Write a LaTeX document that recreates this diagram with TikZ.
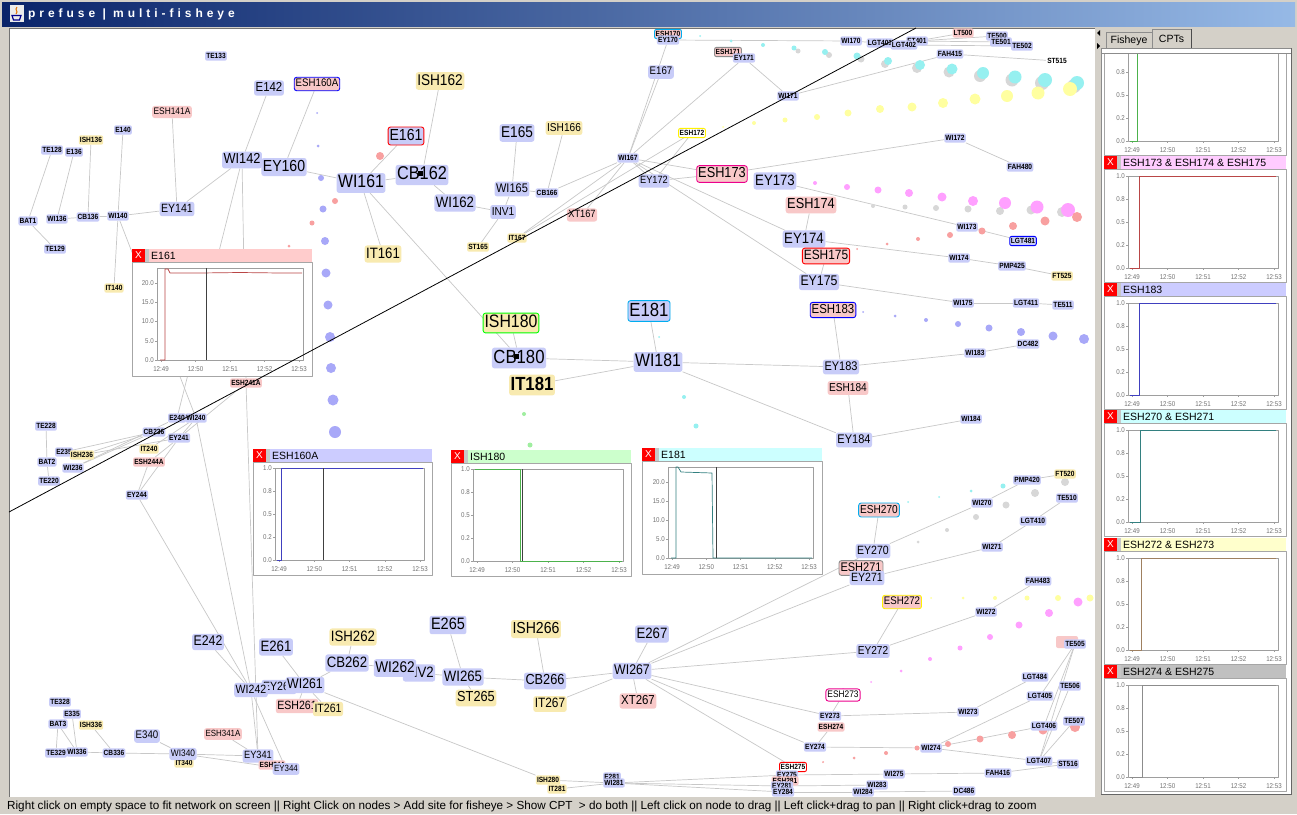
\documentclass[tikz,border=0pt]{standalone}
\usepackage{fontspec}
\setmainfont{Liberation Sans}
\newfontfamily\nf[FakeStretch=0.88]{Liberation Sans}
\newfontfamily\titlefont[LetterSpace=33]{Liberation Sans}
\pgfdeclarelayer{back}
\pgfdeclarelayer{links}
\pgfsetlayers{back,links,main}

\definecolor{nodeblue}{RGB}{200,204,248}
\definecolor{nodeyellow}{RGB}{248,234,176}
\definecolor{nodepink}{RGB}{248,200,200}
\definecolor{edgegray}{RGB}{200,200,200}
\definecolor{winframe}{RGB}{212,208,200}
\definecolor{titleL}{RGB}{10,36,106}
\definecolor{titleR}{RGB}{150,185,230}
\definecolor{xred}{RGB}{255,0,0}
\definecolor{dcyan}{RGB}{150,240,240}
\definecolor{dyellow}{RGB}{255,255,160}
\definecolor{dmag}{RGB}{255,160,255}
\definecolor{dred}{RGB}{248,160,160}
\definecolor{dblue}{RGB}{168,168,248}
\definecolor{dgray}{RGB}{215,215,215}
\definecolor{dgreen}{RGB}{160,238,160}
\definecolor{hpink}{RGB}{255,204,204}
\definecolor{hlav}{RGB}{204,204,255}
\definecolor{hgreen}{RGB}{204,255,204}
\definecolor{hcyan}{RGB}{204,255,255}
\definecolor{hmag}{RGB}{255,204,255}
\definecolor{hyel}{RGB}{255,255,204}
\definecolor{hgray}{RGB}{192,192,192}

\tikzset{
  base/.style={rounded corners=2.5pt, inner xsep=1.5pt, inner ysep=1.8pt, text=black},
  nb/.style={base, fill=nodeblue},
  ny/.style={base, fill=nodeyellow},
  np/.style={base, fill=nodepink},
  nw/.style={base, fill=white},
  sz/.style={font=\nf\fontsize{#1}{#1}\selectfont, text height={0.72*#1pt}, text depth={0.18*#1pt}},
  xs/.style={font=\nf\bfseries\fontsize{7.5}{7.5}\selectfont, text height=5.4pt, text depth=1.3pt,
             inner xsep=1.2pt, inner ysep=1.3pt, rounded corners=2pt},
  ring/.style={draw=#1, line width=0.9pt},
  edge/.style={draw=edgegray, line width=0.7pt},
  chartedge/.style={draw=black!35, line width=0.6pt},
  plotedge/.style={draw=black!38, line width=0.5pt},
  ticklab/.style={font=\nf\fontsize{7}{7}\selectfont, text=black!55, inner sep=0pt},
  closex/.style={font=\fontsize{10}{10}\selectfont, text=white, inner sep=0pt},
  cpttitle/.style={font=\fontsize{10.5}{10.5}\selectfont, anchor=west, inner sep=0pt, text=black},
  tabtext/.style={font=\fontsize{10.5}{10.5}\selectfont, inner sep=0pt},
}

% header band of a chart: name, left, right, top, colour, title
\newcommand{\cpthead}[6]{%
  \fill[#5] (#2,#4) rectangle (#3,{(#4)+13});
  \fill[xred] (#2,#4) rectangle ({(#2)+13},{(#4)+13});
  \fill[black!22] ({(#2)+13},#4) rectangle ({(#2)+17},{(#4)+13});
  \node[closex] (#1-close) at ({(#2)+6.5},{(#4)+6.5}) {X};
  \node[cpttitle] (#1-title) at ({(#2)+19},{(#4)+6.7}) {#6};
}
% time axis: name, left, right, bottom
\newcommand{\timeaxis}[4]{%
  \foreach \lab [count=\k from 0] in {12:49,12:50,12:51,12:52,12:53}{
    \draw[plotedge] ({(#2)+4+\k*((#3)-(#2)-8)/4},#4) -- ++(0,2);
    \node[ticklab] (#1-t\k) at ({(#2)+4+\k*((#3)-(#2)-8)/4},{(#4)+9}) {\lab};
  }%
}
% plot area for a 0..1 series: name, left, top, right, bottom
\newcommand{\unitaxes}[5]{%
  \draw[plotedge, fill=white] (#2,#3) rectangle (#4,#5);
  \foreach \lab [count=\k from 0] in {0.0,0.2,0.5,0.8,1.0}{
    \draw[plotedge] ({(#2)-2},{(#5)-\k*((#5)-(#3))/4}) -- (#2,{(#5)-\k*((#5)-(#3))/4});
    \node[ticklab, anchor=east] (#1-v\k) at ({(#2)-3},{(#5)-\k*((#5)-(#3))/4}) {\lab};
  }%
  \timeaxis{#1}{#2}{#4}{#5}%
}
% plot area for a temperature series: name, left, top, right, bottom
\newcommand{\tempaxes}[5]{%
  \draw[plotedge, fill=white] (#2,#3) rectangle (#4,#5);
  \foreach \lab [count=\k from 0] in {0.0,5.0,10.0,15.0,20.0}{
    \draw[plotedge] ({(#2)-2},{(#5)-5*\k*((#5)-(#3))/23.9}) -- (#2,{(#5)-5*\k*((#5)-(#3))/23.9});
    \node[ticklab, anchor=east] (#1-v\k) at ({(#2)-3},{(#5)-5*\k*((#5)-(#3))/23.9}) {\lab};
  }%
  \timeaxis{#1}{#2}{#4}{#5}%
}
% body of a chart in the side panel: name, header top, series colour, step x
\newcommand{\sidebody}[4]{%
  \draw[chartedge, fill=white] (1104,{#2+13}) rectangle (1286,{#2+126});
  \unitaxes{#1}{1128}{#2+20}{1278}{#2+112}
  \draw[#3, line width=0.7pt] (1130,{#2+112}) -- (#4,{#2+112}) -- (#4,{#2+20}) -- (1276,{#2+20});
}
% full chart of the side panel: name, header top, band colour, title, series colour, step x
\newcommand{\sidecpt}[6]{%
  \cpthead{#1}{1104}{1286}{#2}{#3}{#4}
  \sidebody{#1}{#2}{#5}{#6}
}

\begin{document}
\begin{tikzpicture}[x=1pt, y=-1pt, line join=round]
\useasboundingbox (0,0) rectangle (1297,814);

\begin{pgfonlayer}{back}
  % window frame, title bar and drawing canvas
  \fill[winframe] (0,0) rectangle (1297,814);
  \shade[left color=titleL, right color=titleR] (2,2) rectangle (1295,26);
  \fill[white!92!black] (10,5) rectangle (24,22);
  \draw[orange!90!black, line width=1pt] (17,7) .. controls (14,10) and (19,11) .. (16,14);
  \draw[blue!55!black, line width=1.2pt] (12,15.5) -- (21,15.5) -- (19.5,20) -- (13.5,20) -- cycle;
  \node[anchor=west, text=white, inner sep=0pt,
        font=\titlefont\bfseries\fontsize{12}{12}\selectfont] (wintitle) at (28,14) {prefuse | multi-fisheye};
  \fill[white] (9,28) rectangle (1095,797);
  \draw[black!55, line width=0.8pt] (9,797) -- (9,28) -- (1095,28);
  % splitter
  \fill[black] (1097,33) -- (1100,30) -- (1100,36) -- cycle;
  \fill[black] (1097,43) -- (1097,49) -- (1100,46) -- cycle;
  % side panel with tabs
  \draw[black!45, fill=white] (1101,48) rectangle (1291,794);
  \draw[black!45, fill=winframe] (1106,48) -- (1106,32) -- (1152,32) -- (1152,48);
  \draw[black!45, fill=winframe] (1152,48) -- (1152,29) -- (1191,29) -- (1191,48);
  \draw[black!70] (1191,29) -- (1191,48);
  \node[tabtext] (tabfish) at (1129,40.5) {Fisheye};
  \node[tabtext] (tabcpt) at (1171.5,38.5) {CPTs};
  \draw[black!60] (1101,794) -- (1291,794) -- (1291,48);
  % status bar
  \node[anchor=west, inner sep=0pt, font=\fontsize{11.7}{11.7}\selectfont] (hint) at (7,806)
    {Right click on empty space to fit network on screen || Right Click on nodes > Add site for fisheye > Show CPT ~> do both || Left click on node to drag || Left click+drag to pan || Right click+drag to zoom};
\end{pgfonlayer}

% ---------------- nodes ----------------
% upper left
\node[nb,xs] (TE133) at (216,56) {TE133};
\node[nb,sz=13] (E142) at (269,88) {E142};
\node[np,sz=11,ring=blue] (ESH160A) at (317,84) {ESH160A};
\node[np,sz=9.5] (ESH141A) at (172,112) {ESH141A};
\node[nb,xs] (E140) at (123,130) {E140};
\node[ny,xs] (ISH136) at (91,140) {ISH136};
\node[nb,xs] (E136) at (74,152) {E136};
\node[nb,xs] (TE128) at (52,150) {TE128};
\node[nb,sz=14.5] (WI142) at (242,160) {WI142};
\node[nb,sz=16] (EY160) at (284,167) {EY160};
\node[nb,sz=12] (EY141) at (177,209) {EY141};
\node[nb,xs] (BAT1) at (28,221) {BAT1};
\node[nb,xs] (WI136) at (57,219) {WI136};
\node[nb,xs] (CB136) at (88,217) {CB136};
\node[nb,xs] (WI140) at (118,216) {WI140};
\node[nb,xs] (TE129) at (55,249) {TE129};
\node[ny,xs] (IT140) at (114,288) {IT140};

% upper middle
\node[ny,sz=15.5] (ISH162) at (440,81) {ISH162};
\node[nb,sz=16,ring=red] (E161) at (406,136) {E161};
\node[nb,sz=18] (WI161) at (361,183) {WI161};
\node[nb,sz=18.5] (CB162) at (422,175) {CB162};
\fill[black] (418,171) rectangle (423,176);
\node[nb,sz=15] (WI162) at (455,203) {WI162};
\node[nb,sz=15.5] (E165) at (517,133) {E165};
\node[ny,sz=11.5] (ISH166) at (564,128) {ISH166};
\node[nb,sz=12.5] (WI165) at (512,189) {WI165};
\node[nb,xs] (CB166) at (547,193) {CB166};
\node[nb,sz=11.5] (INV1) at (503,212) {INV1};
\node[ny,xs] (ST165) at (478,247) {ST165};
\node[ny,xs] (IT167) at (517,238) {IT167};
\node[np,sz=10.5] (XT167) at (582,215) {XT167};
\node[ny,sz=15] (IT161) at (383,254) {IT161};
\node[nb,sz=11] (E167) at (661,72) {E167};
\node[np,xs,ring=cyan] (ESH170) at (668,34) {ESH170};
\node[nb,xs] (EY170) at (668,40) {EY170};
\node[nb,xs] (WI167) at (628,158) {WI167};
\node[nb,sz=10.5] (EY172) at (654,181) {EY172};
\node[nw,xs,ring=yellow] (ESH172) at (692,133) {ESH172};

% upper right
\node[np,xs,ring=black!45] (ESH171) at (728,52) {ESH171};
\node[nb,xs] (EY171) at (744,58) {EY171};
\node[nb,xs] (WI170) at (851,41) {WI170};
\node[nb,xs] (FT401) at (917,41) {FT401};
\node[nb,xs] (LGT401) at (880,43) {LGT401};
\node[nb,xs] (LGT402) at (904,45) {LGT402};
\node[np,xs] (LT500) at (963,33) {LT500};
\node[nb,xs] (TE500) at (997,36) {TE500};
\node[nb,xs] (TE501) at (1001,42) {TE501};
\node[nb,xs] (TE502) at (1022,46) {TE502};
\node[nb,xs] (FAH415) at (950,54) {FAH415};
\node[xs] (ST515) at (1057,61) {ST515};
\node[nb,xs] (WI171) at (788,96) {WI171};
\node[nb,xs] (WI172) at (955,138) {WI172};
\node[nb,xs] (FAH480) at (1020,167) {FAH480};
\node[np,sz=14.5,ring=magenta] (ESH173) at (722,174) {ESH173};
\node[nb,sz=15] (EY173) at (775,181) {EY173};
\node[np,sz=14.5] (ESH174) at (811,205) {ESH174};
\node[nb,sz=15] (EY174) at (804,239) {EY174};
\node[np,sz=13.5,ring=red] (ESH175) at (826,256) {ESH175};
\node[nb,sz=14] (EY175) at (819,282) {EY175};
\node[nb,xs] (WI173) at (967,227) {WI173};
\node[nb,xs,ring=blue] (LGT481) at (1023,241) {LGT481};
\node[nb,xs] (WI174) at (959,258) {WI174};
\node[nb,xs] (PMP425) at (1012,266) {PMP425};
\node[ny,xs] (FT525) at (1062,276) {FT525};
\node[nb,xs] (WI175) at (963,303) {WI175};
\node[nb,xs] (LGT411) at (1026,303) {LGT411};
\node[nb,xs] (TE511) at (1063,305) {TE511};
\node[np,sz=13,ring=blue] (ESH183) at (833,310) {ESH183};
\node[nb,xs] (WI183) at (975,353) {WI183};
\node[nb,xs] (DC482) at (1028,344) {DC482};
\node[nb,sz=12.5] (EY183) at (841,367) {EY183};
\node[np,sz=11.5] (ESH184) at (848,388) {ESH184};
\node[nb,sz=12.5] (EY184) at (854,440) {EY184};
\node[nb,xs] (WI184) at (971,419) {WI184};

% centre
\node[ny,sz=18,ring=green] (ISH180) at (511,323) {ISH180};
\node[nb,sz=19,ring=cyan] (E181) at (649,311) {E181};
\node[nb,sz=19] (CB180) at (519,358) {CB180};
\fill[black] (514,354) rectangle (519,359);
\node[ny,sz=19,font=\nf\bfseries\fontsize{19}{19}\selectfont] (IT181) at (532,385) {IT181};
\node[nb,sz=18] (WI181) at (658,362) {WI181};

% middle left
\node[np,xs] (ESH241A) at (246,383) {ESH241A};
\node[nb,xs] (E240) at (177,418) {E240};
\node[nb,xs] (WI240) at (196,418) {WI240};
\node[nb,xs] (CB236) at (154,432) {CB236};
\node[nb,xs] (EY241) at (179,438) {EY241};
\node[nb,xs] (TE228) at (46,426) {TE228};
\node[nb,xs] (E235) at (64,452) {E235};
\node[ny,xs] (ISH236) at (82,455) {ISH236};
\node[nb,xs] (BAT2) at (47,462) {BAT2};
\node[nb,xs] (WI236) at (73,468) {WI236};
\node[nb,xs] (TE220) at (49,481) {TE220};
\node[ny,xs] (IT240) at (149,449) {IT240};
\node[np,xs] (ESH244A) at (149,462) {ESH244A};
\node[nb,xs] (EY244) at (137,495) {EY244};

% lower left
\node[nb,sz=14] (E242) at (208,642) {E242};
\node[nb,sz=15] (E261) at (276,647) {E261};
\node[nb,sz=12] (EY261) at (279,687) {EY261};
\node[nb,sz=12] (WI242) at (251,690) {WI242};
\node[nb,sz=14] (WI261) at (305,685) {WI261};
\node[np,sz=12] (ESH261) at (297,706) {ESH261};
\node[ny,sz=12] (IT261) at (328,709) {IT261};
\node[nb,xs] (TE328) at (60,702) {TE328};
\node[nb,xs] (E335) at (72,714) {E335};
\node[nb,xs] (BAT3) at (58,724) {BAT3};
\node[ny,xs] (ISH336) at (91,725) {ISH336};
\node[nb,xs] (TE329) at (56,753) {TE329};
\node[nb,xs] (WI336) at (77,752) {WI336};
\node[nb,xs] (CB336) at (114,753) {CB336};
\node[nb,sz=11] (E340) at (147,736) {E340};
\node[ny,xs] (IT340) at (184,763) {IT340};
\node[nb,sz=9.5] (WI340) at (183,754) {WI340};
\node[np,sz=9] (ESH341A) at (223,734) {ESH341A};
\node[nb,sz=10.5] (EY341) at (258,756) {EY341};
\node[np,xs] (ESH344) at (272,765) {ESH344};
\node[nb,sz=9] (EY344) at (286,769) {EY344};

% lower middle
\node[ny,sz=15] (ISH262) at (353,637) {ISH262};
\node[nb,sz=15] (CB262) at (347,663) {CB262};
\node[nb,sz=15] (INV2) at (419,673) {INV2};
\node[nb,sz=15.5] (WI262) at (395,668) {WI262};
\node[nb,sz=16.5] (E265) at (448,625) {E265};
\node[nb,sz=15] (WI265) at (463,677) {WI265};
\node[ny,sz=14.5] (ST265) at (476,698) {ST265};
\node[ny,sz=16] (ISH266) at (536,629) {ISH266};
\node[nb,sz=14.5] (CB266) at (545,681) {CB266};
\node[ny,sz=13.5] (IT267) at (550,704) {IT267};
\node[nb,sz=15] (E267) at (652,634) {E267};
\node[nb,sz=14] (WI267) at (632,671) {WI267};
\node[np,sz=13] (XT267) at (638,701) {XT267};
\node[ny,xs] (ISH280) at (548,780) {ISH280};
\node[ny,xs] (IT281) at (557,789) {IT281};
\node[nb,xs] (E281) at (612,777) {E281};
\node[nb,xs] (WI281) at (614,783) {WI281};

% lower right
\node[nb,xs] (PMP420) at (1027,480) {PMP420};
\node[ny,xs] (FT520) at (1065,474) {FT520};
\node[np,sz=11.5,ring=cyan] (ESH270) at (879,510) {ESH270};
\node[nb,xs] (WI270) at (982,503) {WI270};
\node[nb,xs] (TE510) at (1067,498) {TE510};
\node[nb,xs] (LGT410) at (1033,521) {LGT410};
\node[nb,xs] (WI271) at (992,547) {WI271};
\node[nb,sz=12] (EY270) at (873,551) {EY270};
\node[np,sz=12.5,ring=black!45] (ESH271) at (861,568) {ESH271};
\node[nb,sz=12] (EY271) at (867,578) {EY271};
\node[nb,xs] (FAH483) at (1038,581) {FAH483};
\node[np,sz=11,ring=yellow] (ESH272) at (902,602) {ESH272};
\node[nb,xs] (WI272) at (986,612) {WI272};
\node[nb,sz=11.5] (EY272) at (873,651) {EY272};
\fill[nodepink, rounded corners=2pt] (1056,636) rectangle (1078,648);
\node[nb,xs] (TE505) at (1075,644) {TE505};
\node[nb,xs] (LGT484) at (1035,677) {LGT484};
\node[nb,xs] (TE506) at (1070,686) {TE506};
\node[nb,xs] (LGT405) at (1040,696) {LGT405};
\node[nw,sz=9.5,ring=magenta] (ESH273) at (843,695) {ESH273};
\node[nb,xs] (EY273) at (830,716) {EY273};
\node[nb,xs] (WI273) at (968,712) {WI273};
\node[np,xs] (ESH274) at (831,727) {ESH274};
\node[nb,xs] (LGT406) at (1044,726) {LGT406};
\node[nb,xs] (TE507) at (1074,721) {TE507};
\node[nb,xs] (EY274) at (815,747) {EY274};
\node[nb,xs] (WI274) at (931,748) {WI274};
\node[nb,xs] (LGT407) at (1039,761) {LGT407};
\node[nb,xs] (ST516) at (1068,764) {ST516};
\node[nw,xs,ring=red] (ESH275) at (793,767) {ESH275};
\node[nb,xs] (EY275) at (787,775) {EY275};
\node[np,xs] (ESH281) at (785,781) {ESH281};
\node[nb,xs] (EY281) at (782,786) {EY281};
\node[nb,xs] (EY284) at (783,792) {EY284};
\node[nb,xs] (WI275) at (894,774) {WI275};
\node[nb,xs] (FAH416) at (998,773) {FAH416};
\node[nb,xs] (WI283) at (877,785) {WI283};
\node[nb,xs] (WI284) at (863,792) {WI284};
\node[nb,xs] (DC486) at (964,791) {DC486};

% ---------------- links and trails ----------------
\begin{pgfonlayer}{links}
\begin{scope}
\clip (9,28) rectangle (1095,797);
\foreach \a/\b in {
  BAT1/TE128, BAT1/TE129, WI136/E136, WI136/CB136, CB136/ISH136, CB136/WI140, WI140/E140,
  WI140/IT140, WI140/EY141, EY141/ESH141A, EY141/WI142, WI142/E142, WI142/EY160,
  EY160/ESH160A, EY160/WI161, WI161/E161, WI161/CB162, CB162/ISH162, CB162/WI162,
  WI162/INV1, INV1/WI165, WI165/E165, INV1/ST165, WI165/CB166, CB166/ISH166, CB166/WI167,
  WI161/IT161, WI161/CB180, ISH180/CB180, CB180/WI181, IT181/WI181, WI181/E181,
  WI181/EY183, WI181/EY184,
  WI167/E167, WI167/EY170, WI167/EY171, WI167/IT167, WI167/XT167, WI167/EY172,
  WI167/ESH173, WI167/EY174, WI167/EY175, EY172/ESH172, EY172/ESH173, IT167/ESH172,
  EY170/WI170, WI170/LGT401, FT401/LT500, FT401/TE500, FT401/TE501, LGT402/TE502,
  EY171/WI171, WI171/FAH415, FAH415/ST515, ESH173/WI172, WI172/FAH480,
  EY173/WI173, WI173/LGT481, EY174/ESH174, EY174/WI174, WI174/PMP425, PMP425/FT525,
  EY175/ESH175, EY175/WI175, WI175/LGT411, LGT411/TE511, ESH183/EY183, EY183/WI183,
  WI183/DC482, ESH184/EY184, EY184/WI184,
  TE228/BAT2, BAT2/TE220, E235/CB236, ISH236/CB236, WI236/CB236, WI236/E240,
  ISH236/EY241, WI240/EY241, EY241/ESH244A, EY244/ESH244A, EY244/EY241, IT240/WI240,
  EY244/WI242, WI240/WI242, WI140/WI240, WI142/E240, WI142/ESH241A, ESH241A/EY241,
  ESH241A/EY341,
  BAT3/TE329, BAT3/WI336, E335/WI336, ISH336/CB336, WI336/CB336, CB336/WI340,
  WI340/E340, WI340/EY341, WI340/EY344, EY341/ESH341A, EY341/WI242, WI242/E242,
  WI242/EY344, WI261/E261, WI261/ESH261, WI261/IT261, WI261/CB262, CB262/ISH262,
  CB262/WI262, INV2/WI265, WI265/E265, WI265/ST265, WI265/CB266, CB266/ISH266,
  CB266/WI267, WI267/E267, WI267/IT267, WI267/XT267, WI261/ISH280, ISH280/WI281,
  IT281/WI281, WI281/EY275, WI281/EY281, WI281/EY284,
  WI267/EY270, WI267/EY271, WI267/EY272, WI267/EY273, WI267/EY274, WI267/ESH275,
  ESH270/EY270, EY270/WI270, WI270/PMP420, PMP420/FT520, ESH271/EY271, EY271/WI271,
  WI271/LGT410, LGT410/TE510, ESH272/EY272, EY272/WI272, WI272/FAH483, ESH273/EY273,
  EY273/WI273, WI273/LGT484, ESH274/EY274, EY274/WI274, WI274/LGT405, WI274/LGT406,
  WI274/LGT407, LGT407/ST516, TE505/LGT405, TE505/LGT406, TE505/LGT407, TE506/LGT407,
  TE507/LGT407, EY275/WI275, WI275/FAH416, FAH416/ST516, EY281/WI283, EY284/WI284,
  WI284/DC486}
  \draw[edge] (\a) -- (\b);

% fisheye trails
\foreach \x/\y/\r in {798/51/2.5,829/55/3,861/59/3.5,885/64/4,917/68/5,949/72/5.5,980/76/6,1012/80/6.5,1042/83/7,1074/86/7}
  \fill[dgray] (\x,\y) circle[radius=\r];
\foreach \x/\y/\r in {700/36/1,731/41/1.5,763/45/2,794/48/2.5,825/52/3,857/56/3.5,888/61/4,920/65/5,952/69/5.5,983/73/6,1015/77/6.5,1045/80/7,1077/83/7}
  \fill[dcyan] (\x,\y) circle[radius=\r];
\foreach \x/\y/\r in {723/127/1,754/123/2,785/120/2.5,817/117/3,848/113/3.5,880/109/4,912/107/4.5,943/103/5,975/99/5.5,1007/96/6,1038/93/6.5,1070/89/7}
  \fill[dyellow] (\x,\y) circle[radius=\r];
\foreach \x/\y/\r in {873/206/2,905/207/2.5,936/208/3,968/209/3.5,1000/211/4,1031/210/4.5,1062/212/5}
  \fill[dgray] (\x,\y) circle[radius=\r];
\foreach \x/\y/\r in {815/183/2,847/187/3,878/190/3.5,909/193/4,942/197/4.5,973/201/5,1005/203/6,1037/207/6.5,1068/210/7}
  \fill[dmag] (\x,\y) circle[radius=\r];
\foreach \x/\y/\r in {857/249/1,887/244/1.5,918/239/2,950/235/3,982/231/3.5,1013/226/4,1045/221/4.5,1077/217/5}
  \fill[dred] (\x,\y) circle[radius=\r];
\foreach \x/\y/\r in {863/312/1,895/316/1.5,926/320/2,958/324/3,989/328/3.5,1021/332/4,1053/336/4.5,1084/339/5}
  \fill[dblue] (\x,\y) circle[radius=\r];
\foreach \x/\y/\r in {317/113/1,318/146/1.5,321/178/3,323/209/3.5,325/241/4,326/273/4.5,328/305/4.5,330/337/5,331/368/5,333/400/5.5,335/432/6}
  \fill[dblue] (\x,\y) circle[radius=\r];
\foreach \x/\y/\r in {312/223/2.5,289/246/1.5,380/156/4,358/178/3,335/201/3}
  \fill[dred] (\x,\y) circle[radius=\r];
\foreach \x/\y/\r in {524/414/2,530/445/2.5}
  \fill[dgreen] (\x,\y) circle[radius=\r];
\foreach \x/\y/\r in {659/337/1,671/367/1.5,684/397/2,696/426/2.5,908/502/1,939/497/1,971/491/1.5,1003/486/2.5}
  \fill[dcyan] (\x,\y) circle[radius=\r];
\foreach \x/\y/\r in {918/542/1.5,947/530/2,976/517/3,1006/505/3.5,1035/493/4,1065/482/4}
  \fill[dgray] (\x,\y) circle[radius=\r];
\foreach \x/\y/\r in {931/598/1,963/598/1.5,995/598/2,1027/598/2.5,1058/598/3,1090/598/3.5}
  \fill[dyellow] (\x,\y) circle[radius=\r];
\foreach \x/\y/\r in {843/689/1,871/682/1,901/671/1.5,930/659/2,960/648/2.5,990/637/3,1019/625/3.5,1049/613/4,1078/602/4.5}
  \fill[dmag] (\x,\y) circle[radius=\r];
\foreach \x/\y/\r in {823/762/1,854/758/1.5,886/753/2,917/748/2.5,948/744/3,980/739/3.5,1012/735/4,1043/730/4.5,1075/727/5}
  \fill[dred] (\x,\y) circle[radius=\r];
\end{scope}
\end{pgfonlayer}

% ---------------- charts on the canvas ----------------
% E161
\cpthead{cE161}{132}{312}{249}{hpink}{E161}
\draw[chartedge, fill=white] (132,262) rectangle (312,376);
\tempaxes{cE161}{157}{268}{303}{360}
\draw[red!45!gray, line width=0.7pt] (160,360) -- (165,360) -- (165,269) -- (168,269) -- (170,273)
  -- (200,273) -- (240,272.5) -- (280,273) -- (302,273);
\draw[black!75, line width=0.8pt] (206,268) -- (206,360);

% ESH160A
\cpthead{cESH160A}{253}{432}{449}{hlav}{ESH160A}
\draw[chartedge, fill=white] (253,462) rectangle (432,575);
\unitaxes{cESH160A}{275}{468}{424}{560}
\draw[blue!50!gray, line width=0.7pt] (277,560) -- (281,560) -- (281,468) -- (423,468);
\draw[black!75, line width=0.8pt] (323,468) -- (323,560);

% ISH180
\cpthead{cISH180}{451}{631}{450}{hgreen}{ISH180}
\draw[chartedge, fill=white] (451,463) rectangle (631,576);
\unitaxes{cISH180}{473}{469}{623}{561}
\draw[green!40!gray, line width=0.7pt] (475,469) -- (520,469) -- (520,561) -- (622,561);
\draw[black!75, line width=0.8pt] (522,469) -- (522,561);

% E181
\cpthead{cE181}{642}{822}{448}{hcyan}{E181}
\draw[chartedge, fill=white] (642,461) rectangle (822,574);
\tempaxes{cE181}{668}{467}{813}{558}
\draw[teal!60!gray, line width=0.7pt] (671,558) -- (676,558) -- (676,467) -- (678,467) -- (681,472)
  -- (712,473) -- (713,558) -- (812,558);
\draw[black!75, line width=0.8pt] (716,467) -- (716,558);

% ---------------- charts of the side panel ----------------
\begin{scope}
\clip (1102,53) rectangle (1290,793);
\sidebody{sp0}{29}{green!40!gray}{1137}
\sidecpt{sp1}{156}{hmag}{ESH173 \& ESH174 \& ESH175}{red!45!gray}{1139}
\sidecpt{sp2}{283}{hlav}{ESH183}{blue!50!gray}{1139}
\sidecpt{sp3}{410}{hcyan}{ESH270 \& ESH271}{teal!60!gray}{1140}
\sidecpt{sp4}{538}{hyel}{ESH272 \& ESH273}{brown!50!gray}{1141}
\sidecpt{sp5}{665}{hgray}{ESH274 \& ESH275}{black!45}{1142}
\end{scope}
\draw[black!45] (1101,53) -- (1291,53);

% fisheye sweep line
\coordinate (sweepA) at (9,512);
\coordinate (sweepB) at (916,28);
\draw[black, line width=0.8pt] (sweepA) -- (sweepB);
\end{tikzpicture}
\end{document}
